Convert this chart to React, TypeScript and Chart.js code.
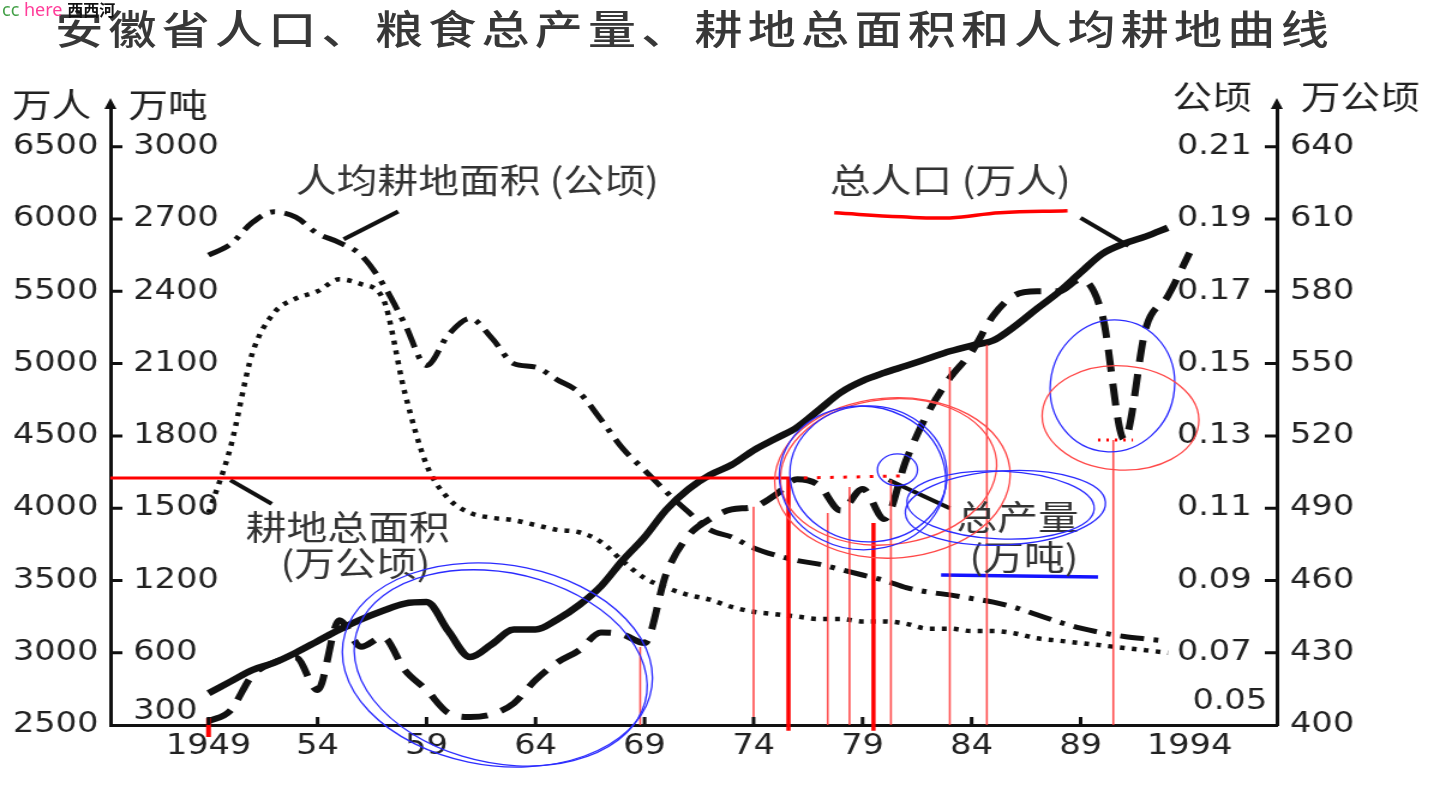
import React, { useEffect, useRef } from "react";
import { Chart, registerables } from "chart.js";

Chart.register(...registerables);

// ---------------- data ----------------
const TITLE = "安徽省人口、粮食总产量、耕地总面积和人均耕地曲线";

const YEARS = [
  1949, 1950, 1951, 1952, 1953, 1954, 1955, 1956, 1957, 1958,
  1959, 1960, 1961, 1962, 1963, 1964, 1965, 1966, 1967, 1968,
  1969, 1970, 1971, 1972, 1973, 1974, 1975, 1976, 1977, 1978,
  1979, 1980, 1981, 1982, 1983, 1984, 1985, 1986, 1987, 1988,
  1989, 1990, 1991, 1992, 1993, 1994,
];

// 总人口 (万人)
const POPULATION = [
  2720, 2800, 2880, 2930, 3000, 3080, 3160, 3230, 3290, 3340,
  3350, 3150, 2970, 3060, 3160, 3160, 3230, 3330, 3460, 3640,
  3800, 3990, 4130, 4230, 4300, 4400, 4480, 4560, 4680, 4800,
  4880, 4936, 4985, 5035, 5085, 5125, 5160, 5260, 5380, 5495,
  5630, 5760, 5830, 5880, 5940, null,
];

// 粮食总产量 (万吨)
const GRAIN = [
  315, 360, 505, 560, 580, 445, 870, 650, 730, 528,
  445, 350, 333, 345, 390, 487, 560, 620, 768, 750,
  680, 1230, 1385, 1455, 1495, 1505, 1555, 1620, 1595, 1490,
  1580, 1455, 1700, 1896, 2040, 2148, 2300, 2385, 2400, 2400,
  2450, 2300, 1785, 2250, 2380, 2560,
];

// 人均耕地面积 (公顷)
const PER_CAPITA = [
  0.18, 0.183, 0.189, 0.192, 0.1905, 0.186, 0.1835, 0.18, 0.172, 0.161,
  0.1495, 0.158, 0.1625, 0.157, 0.15, 0.149, 0.1455, 0.142, 0.1345, 0.1265,
  0.1205, 0.1145, 0.109, 0.104, 0.102, 0.099, 0.097, 0.0955, 0.0945, 0.093,
  0.0915, 0.09, 0.088, 0.0868, 0.086, 0.085, 0.084, 0.0825, 0.0805, 0.0785,
  0.0768, 0.0755, 0.0745, 0.0738, 0.0732, null,
];

// 耕地总面积 (万公顷)
const ARABLE = [
  488, 515, 554, 571, 577, 580, 585, 583, 577, 538,
  508, 494, 488, 486, 485, 483, 481, 480, 476, 468,
  461, 457, 454, 452, 449, 447, 446, 445, 444, 444,
  443, 443, 442, 440, 440, 439, 439, 438, 436, 435,
  434, 433, 432, 431, 430, null,
];

// tick labels
const X_TICKS = [1949, 1954, 1959, 1964, 1969, 1974, 1979, 1984, 1989, 1994];
const X_TICK_LABELS = ["1949", "54", "59", "64", "69", "74", "79", "84", "89", "1994"];
const POP_TICKS = [2500, 3000, 3500, 4000, 4500, 5000, 5500, 6000, 6500];
const GRAIN_TICKS = [300, 600, 1200, 1500, 1800, 2100, 2400, 2700, 3000];
const PER_TICKS = [0.05, 0.07, 0.09, 0.11, 0.13, 0.15, 0.17, 0.19, 0.21];
const AREA_TICKS = [400, 430, 460, 490, 520, 550, 580, 610, 640];

// leader lines from the curve names to the curves
const LEADER_PER_X = [1957.7, 1955.2];
const LEADER_PER_Y = [0.1921, 0.1844];
const LEADER_POP_X = [1989.0, 1991.2];
const LEADER_POP_Y = [6008, 5815];
const LEADER_AREA_X = [1950.0, 1951.9];
const LEADER_AREA_Y = [501.6, 491.8];
const LEADER_GRAIN_X = [1980.2, 1983.0];
const LEADER_GRAIN_Y = [1617, 1500];

// hand-drawn red / blue marks (in 万人 units on the left axis)
const RED_H_X = [1944.5, 1975.7];
const RED_H_Y = [4209, 4209];
const RED_DOT_X = [1976.3, 1980.9];
const RED_DOT_Y = [4209, 4223];
const RED_DOT2_X = [1989.8, 1991.4];
const RED_DOT2_Y = [4472, 4472];
const RED_V_THIN_X = [1968.8, 1974.0, 1977.4, 1978.4, 1980.3, 1983.0, 1984.7, 1990.5];
const RED_V_THIN_TOP = [3040, 4009, 3967, 4147, 4195, 4977, 5130, 4472];
const RED_V_THICK_X = [1975.6, 1979.5];
const RED_V_THICK_TOP = [4209, 3898];
const RED_MARK_X = [1949, 1949];
const RED_MARK_Y = [2548, 2417];
const RED_UL_X = [1977.7, 1980.8, 1983.0, 1985.3, 1988.4];
const RED_UL_Y = [6043, 6015, 6008, 6043, 6057];
const BLUE_UL_X = [1982.6, 1989.8];
const BLUE_UL_Y = [3538, 3524];

// hand-drawn circles: centre (year, 万人), radii (years, 万人), tilt (deg)
const CIRCLES = [
  { year: 1962.25, pop: 2915, ry: 7.2, rp: 692, tilt: 14, color: "#2b2bff" },
  { year: 1962.4, pop: 2895, ry: 6.9, rp: 650, tilt: 20, color: "#2b2bff" },
  { year: 1980.37, pop: 4209, ry: 5.41, rp: 554, tilt: -6, color: "#ff4848" },
  { year: 1980.19, pop: 4251, ry: 5.0, rp: 500, tilt: -12, color: "#ff4848" },
  { year: 1979.0, pop: 4209, ry: 3.8, rp: 498, tilt: -15, color: "#2b2bff" },
  { year: 1979.27, pop: 4237, ry: 3.6, rp: 470, tilt: -5, color: "#2b2bff" },
  { year: 1980.6, pop: 4265, ry: 0.92, rp: 110, tilt: 0, color: "#2b2bff" },
  { year: 1985.55, pop: 4002, ry: 4.6, rp: 256, tilt: -4, color: "#2b2bff" },
  { year: 1985.33, pop: 4022, ry: 4.3, rp: 235, tilt: 3, color: "#2b2bff" },
  { year: 1990.46, pop: 4846, ry: 2.85, rp: 457, tilt: 5, color: "#2b2bff" },
  { year: 1990.83, pop: 4624, ry: 3.6, rp: 360, tilt: 6, color: "#ff4848" },
];

// curve names placed in the plot (left edge year, 万人 level)
const CURVE_NAMES = [
  { text: "人均耕地面积 (公顷)", year: 1953.0, pop: 6271 },
  { text: "总人口 (万人)", year: 1977.5, pop: 6271 },
  { text: "耕地总面积", year: 1950.7, pop: 3870 },
  { text: "(万公顷)", year: 1952.3, pop: 3621 },
  { text: "总产量", year: 1983.3, pop: 3939 },
  { text: "(万吨)", year: 1983.9, pop: 3663 },
];

// ---------------- styling ----------------
const INK = "#111111";
const TEXT = "#222222";
const TICK_FONT = '"DejaVu Sans", sans-serif';
const CJK_FONT = '"Noto Sans CJK SC", sans-serif';
const STEPS_ABOVE = 0.55;

function grainToAxis(v: number): number {
  for (let i = 0; i < GRAIN_TICKS.length - 1; i++) {
    const lo = GRAIN_TICKS[i];
    const hi = GRAIN_TICKS[i + 1];
    if (v <= hi || i === GRAIN_TICKS.length - 2) return i + (v - lo) / (hi - lo);
  }
  return 0;
}

const pts = (xs: number[], ys: (number | null)[]) => xs.map((x, i) => ({ x, y: ys[i] }));
const vLines = (xs: number[], tops: number[], bottom: number) =>
  xs.flatMap((x, i) => [
    { x, y: tops[i] },
    { x, y: bottom },
    { x, y: null as number | null },
  ]);

const decorPlugin = {
  id: "decor",
  afterDraw(chart: any) {
    const { ctx, chartArea: a, scales } = chart;
    const sx = scales.x;
    const sy = scales.y;
    const sg = scales.yGrain;
    const sp = scales.yPer;
    ctx.save();

    // inward tick marks
    ctx.strokeStyle = INK;
    ctx.fillStyle = INK;
    ctx.lineWidth = 3;
    ctx.beginPath();
    POP_TICKS.slice(1).forEach((v) => {
      const p = sy.getPixelForValue(v);
      ctx.moveTo(a.left, p);
      ctx.lineTo(a.left + 10, p);
    });
    PER_TICKS.slice(1).forEach((v) => {
      const p = sp.getPixelForValue(v);
      ctx.moveTo(a.right, p);
      ctx.lineTo(a.right - 10, p);
    });
    X_TICKS.slice(0, -1).forEach((v) => {
      const p = sx.getPixelForValue(v);
      ctx.moveTo(p, a.bottom);
      ctx.lineTo(p, a.bottom - 8);
    });
    ctx.stroke();

    // arrow heads on the two vertical axes
    [a.left, a.right].forEach((px) => {
      ctx.beginPath();
      ctx.moveTo(px, a.top - 9);
      ctx.lineTo(px - 5, a.top + 2);
      ctx.lineTo(px + 5, a.top + 2);
      ctx.closePath();
      ctx.fill();
    });

    // inner tick labels (万吨 and 公顷)
    ctx.fillStyle = TEXT;
    ctx.font = `28px ${TICK_FONT}`;
    ctx.textBaseline = "middle";
    ctx.textAlign = "left";
    GRAIN_TICKS.forEach((t, i) => {
      const p = Math.min(sg.getPixelForValue(i), a.bottom - 13);
      ctx.fillText(String(t), a.left + 19, p);
    });
    ctx.textAlign = "right";
    PER_TICKS.forEach((v, i) => {
      const p = Math.min(sp.getPixelForValue(v), a.bottom - 23);
      ctx.fillText(v.toFixed(2), i === 0 ? a.right - 8 : a.right - 21, p);
    });

    // axis unit titles
    ctx.font = `33px ${CJK_FONT}`;
    ctx.fillStyle = TEXT;
    ctx.textAlign = "right";
    ctx.fillText("万人", a.left - 16, a.top - 3);
    ctx.textAlign = "left";
    ctx.fillText("万吨", a.left + 15, a.top - 3);
    ctx.textAlign = "right";
    ctx.fillText("公顷", a.right - 21, a.top - 11);
    ctx.textAlign = "left";
    ctx.fillText("万公顷", a.right + 20, a.top - 11);

    // curve names
    ctx.font = `34px ${CJK_FONT}`;
    ctx.fillStyle = "#333333";
    ctx.textAlign = "left";
    CURVE_NAMES.forEach((n) => {
      ctx.fillText(n.text, sx.getPixelForValue(n.year), sy.getPixelForValue(n.pop));
    });

    // hand-drawn circles
    CIRCLES.forEach((c) => {
      const cx = sx.getPixelForValue(c.year);
      const cy = sy.getPixelForValue(c.pop);
      const rx = Math.abs(sx.getPixelForValue(c.year + c.ry) - cx);
      const ry = Math.abs(sy.getPixelForValue(c.pop + c.rp) - cy);
      ctx.beginPath();
      ctx.ellipse(cx, cy, rx, ry, (c.tilt * Math.PI) / 180, 0, Math.PI * 2);
      ctx.strokeStyle = c.color;
      ctx.lineWidth = 1.3;
      ctx.stroke();
    });

    ctx.restore();
  },
};

export default function App() {
  const ref = useRef<HTMLCanvasElement>(null);

  useEffect(() => {
    const canvas = ref.current;
    if (!canvas) return;

    const base = {
      pointRadius: 0,
      tension: 0,
      fill: false,
      spanGaps: false,
    };

    const chart = new Chart(canvas, {
      type: "line",
      data: {
        datasets: [
          { ...base, data: vLines(RED_V_THIN_X, RED_V_THIN_TOP, POP_TICKS[0]), yAxisID: "y", borderColor: "rgba(255,60,60,0.9)", borderWidth: 1.6 },
          { ...base, data: vLines(RED_V_THICK_X, RED_V_THICK_TOP, POP_TICKS[0] - 40), yAxisID: "y", borderColor: "#ff0000", borderWidth: 3.5, clip: false },
          { ...base, data: pts(RED_MARK_X, RED_MARK_Y), yAxisID: "y", borderColor: "#ff0000", borderWidth: 4, clip: false },
          { ...base, data: pts(RED_H_X, RED_H_Y), yAxisID: "y", borderColor: "#ff0000", borderWidth: 3 },
          { ...base, data: pts(RED_DOT_X, RED_DOT_Y), yAxisID: "y", borderColor: "#ff0000", borderWidth: 3, borderDash: [3, 8] },
          { ...base, data: pts(RED_DOT2_X, RED_DOT2_Y), yAxisID: "y", borderColor: "#ff0000", borderWidth: 3, borderDash: [2, 5] },
          { ...base, data: pts(RED_UL_X, RED_UL_Y), yAxisID: "y", borderColor: "#ff0000", borderWidth: 3.5, tension: 0.4 },
          { ...base, data: pts(BLUE_UL_X, BLUE_UL_Y), yAxisID: "y", borderColor: "#1414ff", borderWidth: 3.5 },
          { ...base, data: pts(LEADER_PER_X, LEADER_PER_Y), yAxisID: "yPer", borderColor: INK, borderWidth: 4 },
          { ...base, data: pts(LEADER_POP_X, LEADER_POP_Y), yAxisID: "y", borderColor: INK, borderWidth: 4 },
          { ...base, data: pts(LEADER_AREA_X, LEADER_AREA_Y), yAxisID: "yArea", borderColor: INK, borderWidth: 4 },
          { ...base, data: pts(LEADER_GRAIN_X, LEADER_GRAIN_Y.map(grainToAxis)), yAxisID: "yGrain", borderColor: INK, borderWidth: 4 },
          {
            ...base,
            label: "总人口(万人)",
            data: pts(YEARS, POPULATION),
            yAxisID: "y",
            borderColor: INK,
            borderWidth: 6.5,
            cubicInterpolationMode: "monotone",
          },
          {
            ...base,
            label: "粮食总产量(万吨)",
            data: pts(YEARS, GRAIN.map(grainToAxis)),
            yAxisID: "yGrain",
            borderColor: INK,
            borderWidth: 6,
            borderDash: [22, 12],
            cubicInterpolationMode: "monotone",
          },
          {
            ...base,
            label: "人均耕地面积(公顷)",
            data: pts(YEARS, PER_CAPITA),
            yAxisID: "yPer",
            borderColor: INK,
            borderWidth: 5,
            borderDash: [20, 8, 4, 8],
            cubicInterpolationMode: "monotone",
          },
          {
            ...base,
            label: "耕地总面积(万公顷)",
            data: pts(YEARS, ARABLE),
            yAxisID: "yArea",
            borderColor: INK,
            borderWidth: 4.5,
            borderDash: [4, 6],
            cubicInterpolationMode: "monotone",
          },
        ],
      },
      options: {
        animation: false,
        responsive: false,
        events: [],
        layout: { padding: { top: 107, left: 0, right: 0, bottom: 0 } },
        plugins: { legend: { display: false }, tooltip: { enabled: false } },
        scales: {
          x: {
            type: "linear",
            min: 1944.5,
            max: 1998,
            grid: { display: false, drawTicks: false },
            border: { display: true, width: 3, color: INK },
            ticks: {
              font: { family: TICK_FONT, size: 28 },
              color: TEXT,
              padding: 5,
              maxRotation: 0,
              autoSkip: false,
              callback: (v: any) => {
                const i = X_TICKS.indexOf(Number(v));
                return i >= 0 ? X_TICK_LABELS[i] : "";
              },
            },
            afterBuildTicks: (s: any) => {
              s.ticks = X_TICKS.map((value) => ({ value }));
            },
            afterFit: (s: any) => {
              s.height = 71;
            },
          },
          y: {
            type: "linear",
            position: "left",
            min: POP_TICKS[0],
            max: POP_TICKS[POP_TICKS.length - 1] + STEPS_ABOVE * 500,
            grid: { display: false, drawTicks: false },
            border: { display: true, width: 3, color: INK },
            ticks: {
              font: { family: TICK_FONT, size: 28 },
              color: TEXT,
              padding: 10,
              callback: (v: any) => String(v),
            },
            afterBuildTicks: (s: any) => {
              s.ticks = POP_TICKS.map((value) => ({ value }));
            },
            afterFit: (s: any) => {
              s.width = 92;
            },
          },
          yGrain: {
            type: "linear",
            display: false,
            min: 0,
            max: GRAIN_TICKS.length - 1 + STEPS_ABOVE,
          },
          yPer: {
            type: "linear",
            display: false,
            min: PER_TICKS[0],
            max: PER_TICKS[PER_TICKS.length - 1] + STEPS_ABOVE * 0.02,
          },
          yArea: {
            type: "linear",
            position: "right",
            min: AREA_TICKS[0],
            max: AREA_TICKS[AREA_TICKS.length - 1] + STEPS_ABOVE * 30,
            grid: { display: false, drawTicks: false },
            border: { display: true, width: 3, color: INK },
            ticks: {
              font: { family: TICK_FONT, size: 28 },
              color: TEXT,
              padding: 11,
              callback: (v: any) => String(v),
            },
            afterBuildTicks: (s: any) => {
              s.ticks = AREA_TICKS.map((value) => ({ value }));
            },
            afterFit: (s: any) => {
              s.width = 136;
            },
          },
        },
      } as any,
      plugins: [decorPlugin],
    });

    return () => chart.destroy();
  }, []);

  return (
    <div
      style={{
        position: "absolute",
        left: 0,
        top: 0,
        width: 1440,
        height: 796,
        background: "#ffffff",
        overflow: "hidden",
      }}
    >
      <div
        style={{
          position: "absolute",
          left: 0,
          top: 0,
          width: 1200,
          height: 796,
          transform: "scaleX(1.2)",
          transformOrigin: "0 0",
        }}
      >
        <div
          style={{
            position: "absolute",
            left: 46,
            top: 7,
            fontFamily: CJK_FONT,
            fontSize: 40,
            fontWeight: 500,
            lineHeight: "40px",
            letterSpacing: "4.4px",
            color: "#383838",
            whiteSpace: "nowrap",
          }}
        >
          {TITLE}
        </div>
        <canvas ref={ref} width={1200} height={796} style={{ position: "absolute", left: 0, top: 0 }} />
      </div>
      <div
        style={{
          position: "absolute",
          left: 2,
          top: -3,
          fontFamily: '"Noto Sans", sans-serif',
          fontSize: 18,
          lineHeight: "24px",
          whiteSpace: "nowrap",
        }}
      >
        <span style={{ color: "#43a047" }}>cc</span>{" "}
        <span style={{ color: "#ff3d9a" }}>here</span>{" "}
        <span style={{ color: "#111111", fontFamily: CJK_FONT, fontWeight: 700, fontSize: 16 }}>西西河</span>
      </div>
    </div>
  );
}
